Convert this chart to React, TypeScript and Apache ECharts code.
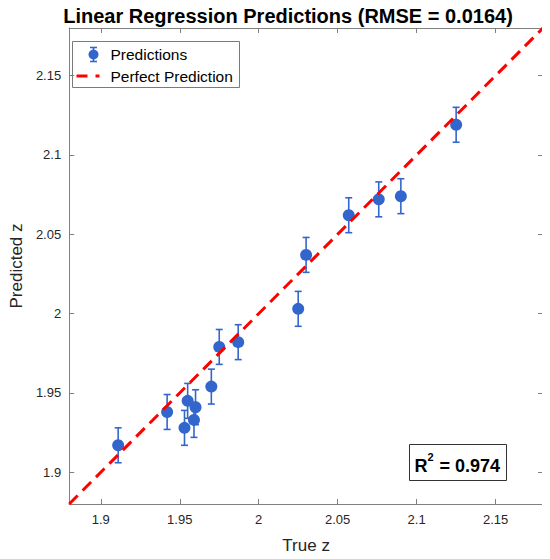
import React, { useEffect, useRef } from "react";
import * as echarts from "echarts";

const trueZ = [1.911, 1.942, 1.953, 1.955, 1.959, 1.96, 1.97, 1.975, 1.987, 2.025, 2.03, 2.057, 2.076, 2.09, 2.125];
const predZ = [1.917, 1.938, 1.928, 1.945, 1.933, 1.941, 1.954, 1.979, 1.982, 2.003, 2.037, 2.062, 2.072, 2.074, 2.119];
const errZ = [0.011, 0.011, 0.011, 0.011, 0.011, 0.011, 0.011, 0.011, 0.011, 0.011, 0.011, 0.011, 0.011, 0.011, 0.011];
const tickValues = [1.9, 1.95, 2, 2.05, 2.1, 2.15];
const axisRange = [1.88, 2.18];
const perfectLine = [
  [1.88, 1.88],
  [2.18, 2.18],
];
const titleText = "Linear Regression Predictions (RMSE = 0.0164)";
const r2Value = "0.974";

const BLUE = "#3366CC";
const AXIS = "#808080";
const TXT = "#262626";
const FONT = "'Liberation Sans', Arial, Helvetica, sans-serif";

export default function App() {
  const ref = useRef<HTMLDivElement>(null);
  useEffect(() => {
    if (!ref.current) return;
    const chart = echarts.init(ref.current, undefined, { renderer: "svg" });
    const pts = trueZ.map((x, i) => [x, predZ[i], errZ[i]]);
    const fmt = (v: number) => String(Math.round(v * 1000) / 1000);
    const baseAxis = (pos: string, showLabel: boolean) => ({
      type: "value",
      position: pos,
      min: axisRange[0],
      max: axisRange[1],
      splitLine: { show: false },
      axisLine: { show: true, onZero: false, lineStyle: { color: AXIS, width: 1 } },
      axisTick: { show: true, inside: true, length: 5, customValues: tickValues, lineStyle: { color: AXIS } },
      axisLabel: {
        show: showLabel,
        customValues: tickValues,
        formatter: fmt,
        color: TXT,
        fontSize: 13,
        fontFamily: FONT,
      },
    });
    const option: any = {
      animation: false,
      backgroundColor: "#ffffff",
      textStyle: { fontFamily: FONT },
      title: {
        text: titleText,
        left: 283,
        textAlign: "center",
        top: 1,
        textStyle: { fontSize: 20, fontWeight: "bold", color: "#000", fontFamily: FONT },
      },
      grid: { left: 60, right: 7, top: 28, bottom: 49, containLabel: false },
      xAxis: [
        {
          ...baseAxis("bottom", true),
          name: "True z",
          nameLocation: "middle",
          nameGap: 33,
          nameTextStyle: { fontSize: 17, color: TXT, fontFamily: FONT },
          axisLabel: { ...baseAxis("bottom", true).axisLabel, margin: 9 },
        },
        { ...baseAxis("top", false) },
      ],
      yAxis: [
        {
          ...baseAxis("left", true),
          name: "Predicted z",
          nameLocation: "middle",
          nameGap: 36,
          nameTextStyle: { fontSize: 17, color: TXT, fontFamily: FONT },
          axisLabel: { ...baseAxis("left", true).axisLabel, margin: 8 },
        },
        { ...baseAxis("right", false) },
      ],
      series: [
        {
          type: "custom",
          name: "errorbars",
          xAxisIndex: 0,
          yAxisIndex: 0,
          data: pts,
          z: 2,
          renderItem: (params: any, api: any) => {
            const x = api.value(0);
            const y = api.value(1);
            const e = api.value(2);
            const top = api.coord([x, y + e]);
            const bot = api.coord([x, y - e]);
            const cw = 3.5;
            const style = { stroke: BLUE, lineWidth: 1.6 };
            return {
              type: "group",
              children: [
                { type: "line", shape: { x1: top[0], y1: top[1], x2: bot[0], y2: bot[1] }, style },
                { type: "line", shape: { x1: top[0] - cw, y1: top[1], x2: top[0] + cw, y2: top[1] }, style },
                { type: "line", shape: { x1: bot[0] - cw, y1: bot[1], x2: bot[0] + cw, y2: bot[1] }, style },
              ],
            };
          },
        },
        {
          type: "scatter",
          name: "Predictions",
          data: pts.map((p) => [p[0], p[1]]),
          symbol: "circle",
          symbolSize: 12,
          itemStyle: { color: BLUE, opacity: 1 },
          z: 3,
        },
        {
          type: "line",
          name: "Perfect Prediction",
          data: perfectLine,
          symbol: "none",
          lineStyle: { color: "#ff0000", width: 3, type: [12, 7] },
          z: 4,
        },
      ],
      graphic: [
        {
          type: "group",
          left: 72,
          top: 41,
          children: [
            { type: "rect", shape: { x: 0, y: 0, width: 167, height: 46 }, style: { fill: "#fff", stroke: "#7a7a7a", lineWidth: 1 } },
            { type: "line", shape: { x1: 21, y1: 6, x2: 21, y2: 20 }, style: { stroke: BLUE, lineWidth: 1.6 } },
            { type: "line", shape: { x1: 17.5, y1: 6, x2: 24.5, y2: 6 }, style: { stroke: BLUE, lineWidth: 1.6 } },
            { type: "line", shape: { x1: 17.5, y1: 20, x2: 24.5, y2: 20 }, style: { stroke: BLUE, lineWidth: 1.6 } },
            { type: "circle", shape: { cx: 21, cy: 13, r: 5 }, style: { fill: BLUE } },
            { type: "text", x: 38, y: 13, style: { text: "Predictions", fontSize: 15.5, fill: "#000", fontFamily: FONT, verticalAlign: "middle" } },
            { type: "line", shape: { x1: 4, y1: 34.5, x2: 15, y2: 34.5 }, style: { stroke: "#ff0000", lineWidth: 3 } },
            { type: "line", shape: { x1: 23, y1: 34.5, x2: 27, y2: 34.5 }, style: { stroke: "#ff0000", lineWidth: 3 } },
            { type: "text", x: 38, y: 34.5, style: { text: "Perfect Prediction", fontSize: 15.5, fill: "#000", fontFamily: FONT, verticalAlign: "middle" } },
          ],
        },
        {
          type: "group",
          left: 409,
          top: 444,
          children: [
            { type: "rect", shape: { x: 0, y: 0, width: 97, height: 36 }, style: { fill: "#fff", stroke: "#333", lineWidth: 1 } },
            { type: "text", x: 5, y: 21, style: { text: "R", fontSize: 18, fontWeight: "bold", fill: "#000", fontFamily: FONT, verticalAlign: "middle" } },
            { type: "text", x: 18, y: 12, style: { text: "2", fontSize: 11, fontWeight: "bold", fill: "#000", fontFamily: FONT, verticalAlign: "middle" } },
            { type: "text", x: 30, y: 21, style: { text: "= " + r2Value, fontSize: 18, fontWeight: "bold", fill: "#000", fontFamily: FONT, verticalAlign: "middle" } },
          ],
        },
      ],
    };
    chart.setOption(option);
    return () => chart.dispose();
  }, []);
  return <div ref={ref} style={{ width: 550, height: 559, margin: -8 }} />;
}
